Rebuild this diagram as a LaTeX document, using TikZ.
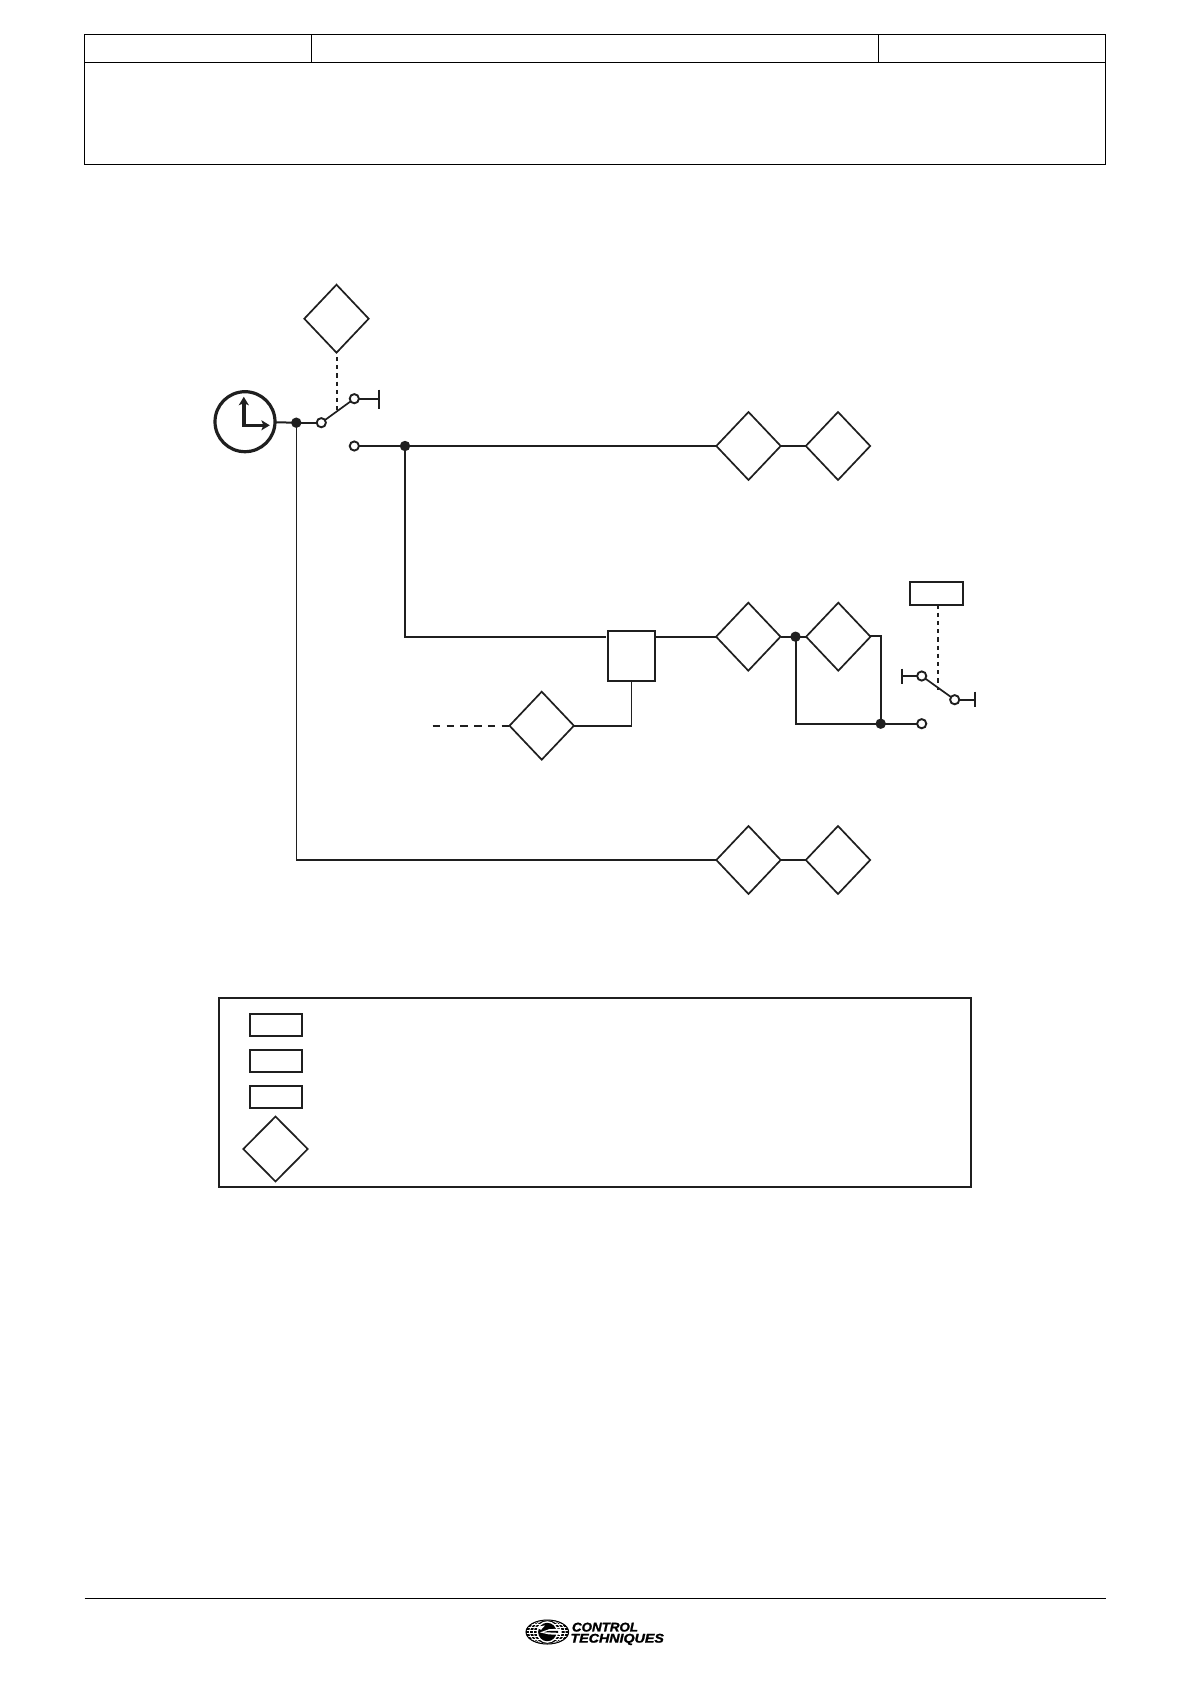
\documentclass[tikz,border=0pt]{standalone}
\usepackage{fontspec}
\setmainfont{Liberation Sans}
\newfontfamily\logofont[FakeBold=1.6]{Liberation Sans}
\usetikzlibrary{shapes.geometric,arrows.meta}
\definecolor{ink}{gray}{0.12}
\tikzset{
  px/.style={x=.5pt,y=-.5pt},
  rule/.style={draw=black,line width=.8pt},
  wire/.style={draw=ink,line width=1pt},
  thin wire/.style={draw=ink,line width=.55pt},
  ctrl/.style={draw=ink,line width=1.1pt,dash pattern=on 2.1pt off 2pt},
  dashwire/.style={draw=ink,line width=1pt,dash pattern=on 3.7pt off 3.2pt},
  param/.style={diamond,draw=ink,fill=white,line width=.85pt,inner sep=0pt,outer sep=0pt,minimum width=32.2pt,minimum height=34pt},
  keyparam/.style={param,minimum height=32.5pt},
  dest/.style={rectangle,draw=ink,fill=white,line width=1pt,inner sep=0pt,outer sep=0pt,minimum width=26.3pt,minimum height=11.2pt},
  junction/.style={circle,fill=ink,draw=none,inner sep=0pt,outer sep=0pt,minimum size=5.2pt},
  contact/.style={circle,draw=ink,fill=white,line width=.95pt,inner sep=0pt,outer sep=0pt,minimum size=4.6pt},
  stopbar/.style={draw=ink,line width=1pt},
  hand/.style={draw=ink,line width=1.7pt,-{Stealth[length=4.2pt,width=5pt,inset=1pt]}},
}
\begin{document}
\begin{tikzpicture}[px]
\useasboundingbox (0,0) rectangle (1190,1684);
% header table
\draw[rule] (84.5,34.5) rectangle (1105.5,164.5);
\draw[rule] (84.5,62.5) -- (1105.5,62.5);
\draw[rule] (311.3,34.5) -- (311.3,62.5);
\draw[rule] (878.3,34.5) -- (878.3,62.5);
% footer rule
\draw[draw=black,line width=.7pt] (84.5,1598.5) -- (1105.5,1598.5);

% clock
\node[circle,draw=ink,line width=1.6pt,fill=white,inner sep=0pt,outer sep=0pt,minimum size=30pt] (clock) at (245,421.7) {};
\coordinate (pivot) at (243.8,425.3);
\draw[hand,shorten <=-.85pt] (pivot) -- ++(0,-28.5);
\draw[hand,shorten <=-.85pt] (pivot) -- ++(26,0);

% selector 1
\node[param] (sel) at (336.5,318.7) {};
\node[junction] (j1) at (296.3,422.7) {};
\node[contact] (c1) at (321.3,422.7) {};
\node[contact] (c2) at (354.3,398.7) {};
\node[contact] (c3) at (354.3,446) {};
\coordinate (stopA) at (379,398.7);
\coordinate (lev1) at (337,414);
\draw[wire] (clock) -- (j1.center);
\draw[wire] (j1.center) -- (c1);
\draw[draw=ink,line width=.85pt] (c1) -- (c2);
\draw[wire] (c2) -- (stopA);
\draw[stopbar] (379,389.7) -- (379,409.3);
\draw[ctrl] (337,357) -- (lev1);

% top row
\node[junction] (j2) at (405,446) {};
\node[param] (d2) at (748.5,446) {};
\node[param] (d3) at (838,446) {};
\draw[wire] (c3) -- (j2.center);
\draw[wire] (j2.center) -- (d2);
\draw[wire] (d2) -- (d3);

% middle row
\node[rectangle,draw=ink,fill=white,line width=1pt,inner sep=0pt,outer sep=0pt,minimum width=23.8pt,minimum height=25pt] (sq) at (631.5,655.7) {};
\node[param] (d4) at (748.3,636.7) {};
\node[param] (d5) at (838.3,636.7) {};
\node[param] (d6) at (541.7,725.7) {};
\node[junction] (j3) at (795.5,636.7) {};
\node[junction] (j4) at (880.7,723.7) {};
\node[contact] (c4) at (921.7,723.7) {};
\coordinate (corner1) at (405,636.7);
\draw[wire,shorten >=1pt] (j2.center) -- (corner1) -- (sq.west |- corner1);
\draw[wire] (sq.east |- d4) -- (d4);
\draw[wire] (d4) -- (j3.center);
\draw[wire] (j3.center) -- (d5);
\draw[wire] (d5.east) -- ++(0,-.8) -| (j4.center);
\draw[wire] (j3.center) -- (j3 |- j4) -- (j4.center);
\draw[wire] (j4.center) -- (c4);
\draw[thin wire] (sq.south) -- (sq.south |- d6) ;
\draw[wire] (d6) -- (sq.south |- d6);
\coordinate (dashstart) at (432.7,725.7);
\draw[dashwire] (dashstart) -- (d6);

% selector 2
\node[dest] (r1) at (936.2,593.3) {};
\node[contact] (c5) at (921.7,676) {};
\node[contact] (c6) at (954.7,699.7) {};
\coordinate (lev2) at (938,690);
\draw[draw=ink,line width=.85pt] (c5) -- (c6);
\draw[ctrl] (r1.south -| lev2) -- (lev2);
\draw[wire] (c5) -- (902.3,676);
\draw[stopbar] (902.3,668.5) -- (902.3,683.5);
\draw[wire] (c6) -- (975,699.7);
\draw[stopbar] (975,691.7) -- (975,706.7);

% bottom row
\node[param] (d7) at (748.5,860) {};
\node[param] (d8) at (838,860) {};
\coordinate (corner2) at (296.3,860);
\draw[thin wire] (j1.center) -- (corner2);
\draw[wire] (corner2) -- (d7);
\draw[wire] (d7) -- (d8);

% legend
\draw[draw=ink,line width=1.1pt] (218.8,998) rectangle (970.8,1186.7);
\node[dest] (k1) at (276,1025) {};
\node[dest] (k2) at (276,1061) {};
\node[dest] (k3) at (276,1097) {};
\node[keyparam] (k4) at (275.5,1149) {};

% logo
\begin{scope}
\clip (547.3,1632) ellipse [x radius=10.75pt,y radius=6.1pt];
\fill[black] (547.3,1632) ellipse [x radius=10.75pt,y radius=6.1pt];
\foreach \yy in {1624,1627,1630,1633,1636,1639.5}
  \draw[white,line width=.45pt] (526,\yy) -- (569,\yy);
\foreach \rx in {7pt,9pt}{
  \draw[white,line width=.4pt] (547.3,1632) ellipse [x radius=\rx,y radius=6.1pt];
}
\fill[white] (547.3,1632) circle [radius=5.4pt];
\fill[black] (547.3,1632) circle [radius=4.6pt];
\fill[white] (561,1628.6) -- (549,1629.2) -- (540,1632.4) -- (549,1634.4) -- (561,1634.8) -- cycle;
\fill[white] (536,1627) -- (545,1625.4) -- (541,1629.8) -- cycle;
\fill[black] (558,1630.8) -- (548,1631) -- (544,1632.2) -- (558,1632.8) -- cycle;
\end{scope}
\draw[black,line width=.5pt] (547.3,1632) ellipse [x radius=10.65pt,y radius=6pt];
\node[anchor=south west,inner sep=0pt,outer sep=0pt] (logoA) at (572,1631.6) {\resizebox{33pt}{4.4pt}{\logofont\bfseries\itshape CONTROL}};
\node[anchor=base west,inner sep=0pt,outer sep=0pt] (logoB) at (570.5,1642.6) {\resizebox{46.7pt}{4.4pt}{\logofont\bfseries\itshape TECHNIQUES}};
\end{tikzpicture}
\end{document}
